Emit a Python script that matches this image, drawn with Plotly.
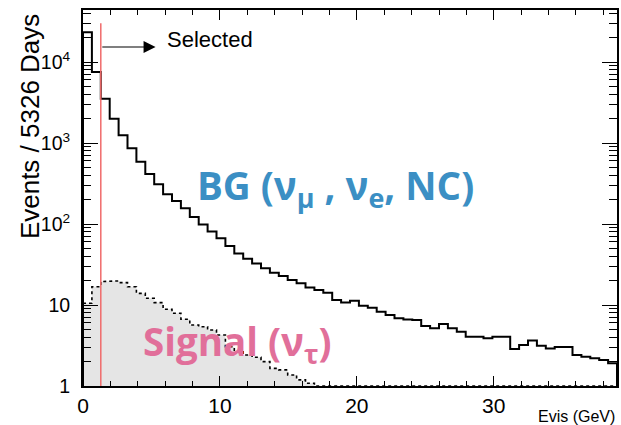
import numpy as np
import plotly.graph_objects as go

# ---------------- data ----------------
BIN_WIDTH = 0.65          # GeV
N_BINS = 60
BG_EVENTS = [23300, 7530, 3520, 1995, 1245, 860, 588, 414, 309, 233,
             192, 156, 122, 98.6, 80.8, 66.6, 53.5, 43.2, 37.2, 32.5,
             28.4, 25.0, 22.8, 20.3, 18.5, 16.5, 15.3, 14.2, 11.5, 10.7,
             11.3, 9.8, 9.26, 8.27, 7.53, 6.85, 6.62, 6.53, 5.51, 5.15,
             5.83, 5.15, 4.68, 4.06, 4.06, 3.88, 4.06, 4.06, 2.86, 3.21,
             3.65, 3.14, 2.90, 3.03, 3.03, 2.41, 2.30, 2.20, 2.09, 1.91]
SIGNAL_EVENTS = [10.5, 16.8, 19.5, 19.8, 18.9, 16.8, 13.9, 12.1, 10.7, 8.85,
                 7.9, 6.66, 5.66, 5.40, 4.91, 4.26, 3.06, 2.65, 2.41, 2.26,
                 2.0, 1.65, 1.58, 1.37, 1.19, 1.08] + [1.0] * 34
CUT_GEV = 1.3
CUT_LINE_TOP = 30000
Y_MIN = 1
X_TICKS = [0, 10, 20, 30]
Y_TICKS = [1, 10, 100, 1000, 10000]
Y_TICK_TEXT = ["1", "10", "10<sup>2</sup>", "10<sup>3</sup>", "10<sup>4</sup>"]

edges = np.arange(N_BINS + 1) * BIN_WIDTH


def steps(vals):
    xs, ys = [edges[0]], [Y_MIN]
    for i, v in enumerate(vals):
        xs += [edges[i], edges[i + 1]]
        ys += [v, v]
    xs.append(edges[-1])
    ys.append(Y_MIN)
    return xs, ys


bx, by = steps(BG_EVENTS)
sx, sy = steps(SIGNAL_EVENTS)

fig = go.Figure()
fig.add_trace(go.Scatter(x=sx, y=sy, mode="lines", fill="toself",
                         fillcolor="#e5e5e5", line=dict(width=0),
                         hoverinfo="skip", showlegend=False))
fig.add_trace(go.Scatter(x=sx[1:-1], y=sy[1:-1], mode="lines",
                         line=dict(color="black", width=1.6, dash="3px,3px"),
                         showlegend=False))
fig.add_trace(go.Scatter(x=bx, y=by, mode="lines",
                         line=dict(color="black", width=2), showlegend=False))
fig.add_trace(go.Scatter(x=[CUT_GEV, CUT_GEV], y=[Y_MIN, CUT_LINE_TOP], mode="lines",
                         line=dict(color="#f06b6b", width=1.5), showlegend=False))

minor_y = [m * 10 ** d for d in range(0, 5) for m in range(2, 10)]
tickfont = dict(family="Liberation Sans, Arial, sans-serif", color="black")

fig.update_layout(
    width=621, height=425,
    margin=dict(l=83, r=2, t=10, b=39),
    paper_bgcolor="white", plot_bgcolor="white",
    xaxis=dict(range=[0, 39], tickvals=X_TICKS, ticks="inside", ticklen=10,
               tickwidth=1.2, tickcolor="black", showline=True, linewidth=2,
               linecolor="black", mirror="allticks", showgrid=False, zeroline=False,
               tickfont=dict(size=21, **tickfont), ticklabelstandoff=0,
               minor=dict(ticks="inside", ticklen=5, dtick=2, tickwidth=1,
                          tickcolor="black", showgrid=False)),
    yaxis=dict(type="log", range=[0, 4.642], tickvals=Y_TICKS, ticktext=Y_TICK_TEXT,
               ticks="inside", ticklen=15, tickwidth=1.2, tickcolor="black",
               showline=True, linewidth=2, linecolor="black", mirror="allticks",
               showgrid=False, zeroline=False,
               tickfont=dict(size=19.5, **tickfont), ticklabelstandoff=7,
               minor=dict(ticks="inside", ticklen=8, tickvals=minor_y, tickwidth=1,
                          tickcolor="black", showgrid=False)),
)

fig.add_annotation(text="Events / 5326 Days", textangle=-90, xref="paper", yref="paper",
                   x=-0.0989, y=0.689, xanchor="center", yanchor="middle",
                   showarrow=False, font=dict(size=26, **tickfont))
fig.add_annotation(text="Evis (GeV)", xref="paper", yref="paper", x=1.0, y=-0.082,
                   xanchor="right", yanchor="middle", showarrow=False,
                   font=dict(size=16, **tickfont))
fig.add_annotation(text="Selected", x=6.0, y=4.284, xanchor="left", yanchor="middle",
                   showarrow=False, font=dict(size=22, **tickfont))
fig.add_annotation(x=5.3, y=4.185, ax=CUT_GEV, ay=4.185, axref="x", ayref="y",
                   text="", showarrow=True, arrowhead=2, arrowsize=2.0,
                   arrowwidth=1.2, arrowcolor="black")
fig.add_annotation(text="BG (ν<sub>μ</sub> , ν<sub>e</sub>, NC)", x=8.2, y=2.45,
                   xanchor="left", yanchor="middle", showarrow=False,
                   font=dict(family="Open Sans", size=38.5, color="#3b8fc4", weight=700))
fig.add_annotation(text="Signal (ν<sub>τ</sub>)", x=4.25, y=0.52,
                   xanchor="left", yanchor="middle", showarrow=False,
                   font=dict(family="Open Sans", size=38.5, color="#e16f9a", weight=700))

fig.write_html("out.html", config={"displayModeBar": False},
               post_script="document.body.style.margin='0px';"
                           "document.body.style.overflow='hidden';")
